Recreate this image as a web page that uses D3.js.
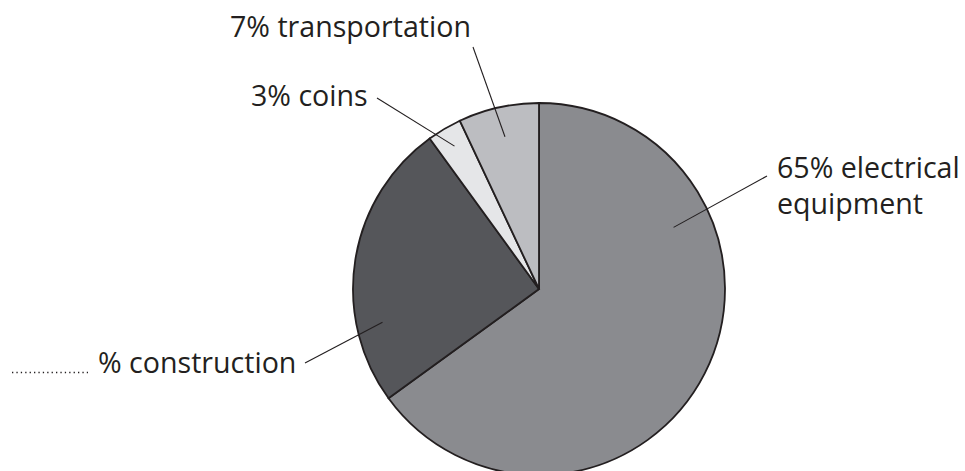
<!DOCTYPE html>
<html>
<head>
<meta charset="utf-8">
<script src="https://cdn.jsdelivr.net/npm/d3@7"></script>
<style>
  body { margin: 0; background: #fff; }
  svg text { font-family: "Open Sans", sans-serif; fill: #231f20; }
</style>
</head>
<body>
<div id="pie"></div>
<script>
// Slice data, clockwise from 12 o'clock
const categories = ["electrical equipment", "construction", "coins", "transportation"];
const shares = [65, 25, 3, 7];
// label text as printed (construction share left blank on the sheet)
const labelLines = [
    ["65% electrical", "equipment"],
    ["% construction"],
    ["3% coins"],
    ["7% transportation"]
];

const colours = ["#8a8b8f", "#55565a", "#e5e6e8", "#bcbdc1"];

var width = 965;
var height = 471;
var cx = 539, cy = 289;
var radius = 186;

var svg = d3.select('#pie')
    .append('svg')
    .attr('width', width)
    .attr('height', height);

var pieGraph = svg.append('g')
    .attr('transform', `translate(${cx}, ${cy})`);

const pie = d3.pie()
    .value(d => d)
    .sort(null);

const pieData = pie(shares);

const arc = d3.arc()
    .innerRadius(0)
    .outerRadius(radius);

pieGraph.selectAll('path')
    .data(pieData)
    .enter()
    .append('path')
    .attr('d', arc)
    .attr('fill', (d, i) => colours[i])
    .attr('stroke', '#231f20')
    .attr('stroke-width', 1.8)
    .attr('stroke-linejoin', 'miter');

// where each leader line touches the slice: angle (deg, from top) and radius
const anchors = [
    { angle: 65.4, r: 148 },
    { angle: 258, r: 160 },
    { angle: null, r: 166 },   // null = middle of slice
    { angle: null, r: 156 }
];
// outer end of leader line and text spot
const labelLayout = [
    { lx: 767, ly: 176, tx: 777, ty: 178, lineGap: 36 },
    { lx: 305, ly: 363, tx: 98, ty: 373, lineGap: 0 },
    { lx: 377, ly: 98, tx: 251, ty: 106, lineGap: 0 },
    { lx: 473, ly: 47, tx: 230, ty: 37, lineGap: 0 }
];

pieData.forEach((d, i) => {
    var a = anchors[i].angle == null ? (d.startAngle + d.endAngle) / 2 : anchors[i].angle * Math.PI / 180;
    var px = Math.sin(a) * anchors[i].r;
    var py = -Math.cos(a) * anchors[i].r;
    var L = labelLayout[i];

    pieGraph.append('line')
        .attr('x1', px).attr('y1', py)
        .attr('x2', L.lx - cx).attr('y2', L.ly - cy)
        .attr('stroke', '#231f20')
        .attr('stroke-width', 1.1);

    var t = svg.append('text')
        .attr('x', L.tx)
        .attr('y', L.ty)
        .attr('font-size', 28.6);
    labelLines[i].forEach((s, j) => {
        t.append('tspan')
            .attr('x', L.tx)
            .attr('dy', j === 0 ? 0 : L.lineGap)
            .text(s);
    });
});

// blank to fill in before "% construction"
svg.append('line')
    .attr('x1', 12).attr('y1', 372.5)
    .attr('x2', 88).attr('y2', 372.5)
    .attr('stroke', '#231f20')
    .attr('stroke-width', 1.4)
    .attr('stroke-dasharray', '1.3,3.1');
</script>
</body>
</html>
